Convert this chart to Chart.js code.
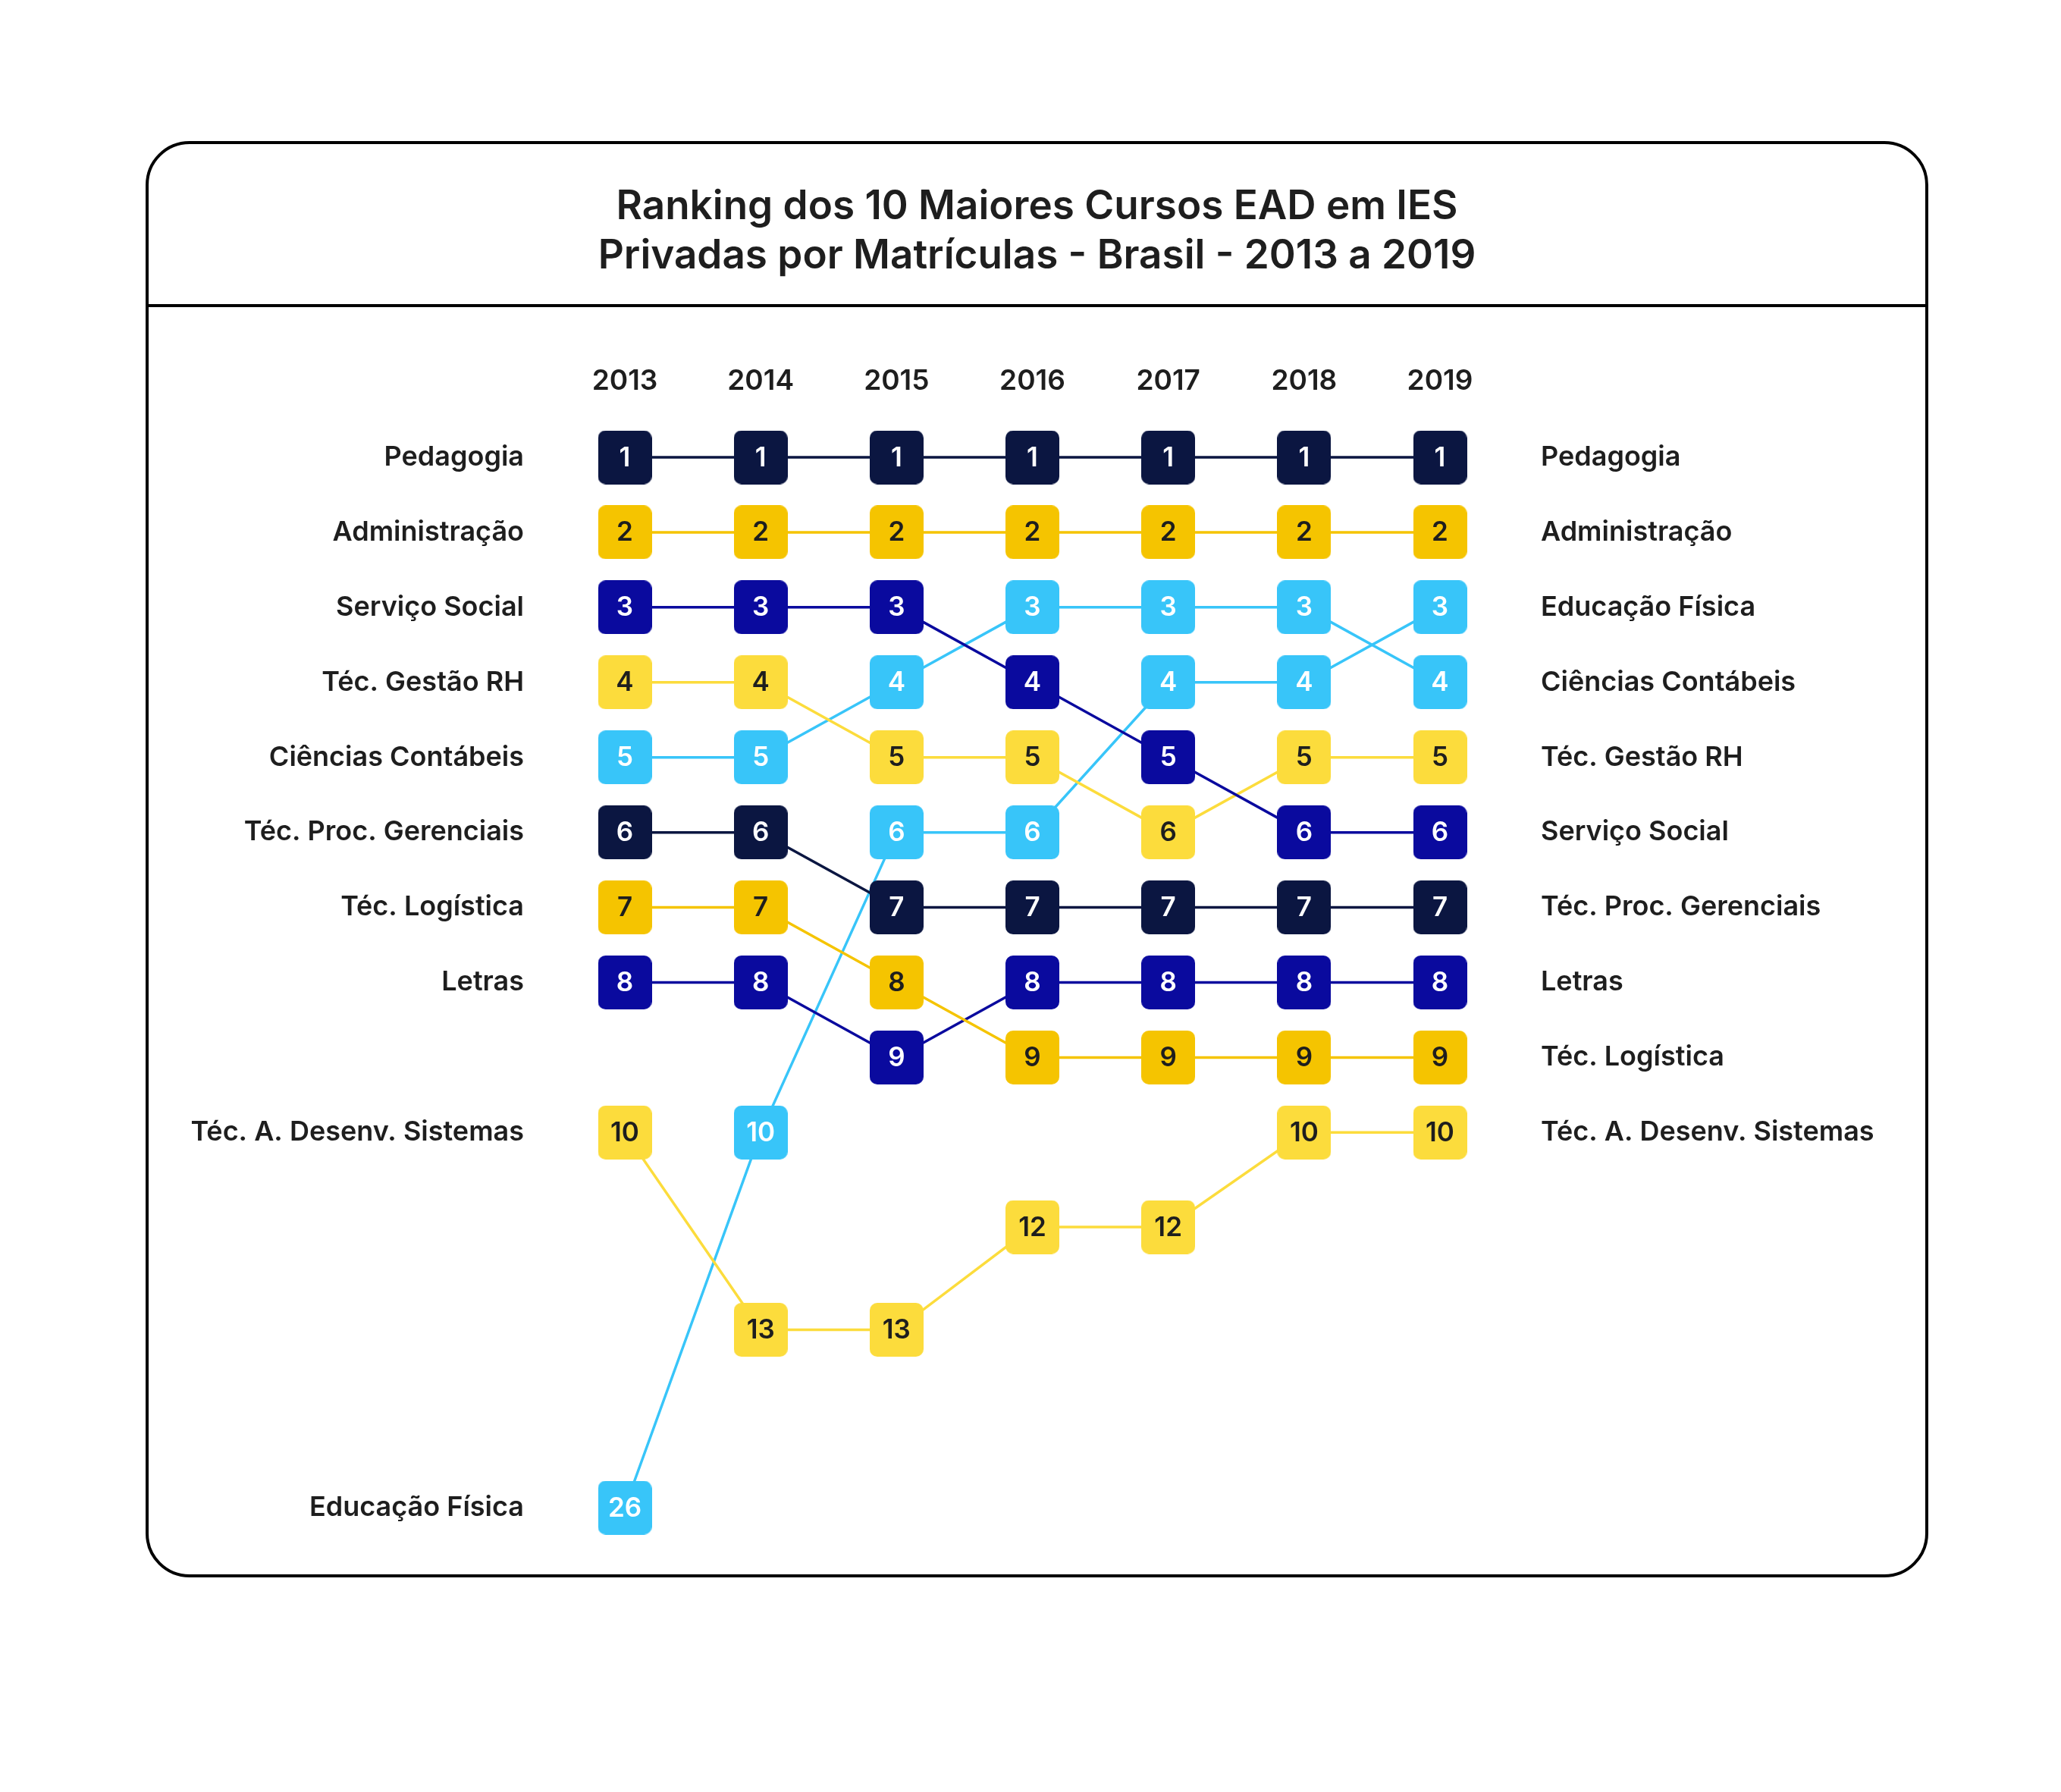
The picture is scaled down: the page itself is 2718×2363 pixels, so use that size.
<!DOCTYPE html>
<html>
<head>
<meta charset="utf-8">
<script src="https://cdn.jsdelivr.net/npm/chart.js@4.4.1/dist/chart.umd.min.js"></script>
<style>
  html, body { margin: 0; padding: 0; background: #ffffff; }
  body { width: 2718px; height: 2363px; position: relative; overflow: hidden; }
  #frame { position: absolute; left: 192px; top: 186px; width: 2351px; height: 1894px;
           box-sizing: border-box; border: 4px solid #000; border-radius: 58px; }
  #divider { position: absolute; left: 0; right: 0; top: 211px; height: 4px; background: #000; }
  #title { position: absolute; left: 192px; top: 238px; width: 2351px; text-align: center;
           font-family: Inter, "Noto Sans", sans-serif; font-weight: 600; font-size: 53px;
           line-height: 65px; color: #1e1e1e; }
  #chart { position: absolute; left: 0; top: 0; }
</style>
</head>
<body>
<div id="frame"><div id="divider"></div></div>
<div id="title">Ranking dos 10 Maiores Cursos EAD em IES<br>Privadas por Matrículas - Brasil - 2013 a 2019</div>
<canvas id="chart" width="2718" height="2363"></canvas>
<script>
// ---------------- data ----------------
const YEARS = ['2013', '2014', '2015', '2016', '2017', '2018', '2019'];

const PEDAGOGIA       = [1, 1, 1, 1, 1, 1, 1];
const ADMINISTRACAO   = [2, 2, 2, 2, 2, 2, 2];
const SERVICO_SOCIAL  = [3, 3, 3, 4, 5, 6, 6];
const GESTAO_RH       = [4, 4, 5, 5, 6, 5, 5];
const CONTABEIS       = [5, 5, 4, 3, 3, 3, 4];
const PROC_GERENCIAIS = [6, 6, 7, 7, 7, 7, 7];
const LOGISTICA       = [7, 7, 8, 9, 9, 9, 9];
const LETRAS          = [8, 8, 9, 8, 8, 8, 8];
const DESENV_SISTEMAS = [10, 13, 13, 12, 12, 10, 10];
const EDUCACAO_FISICA = [26, 10, 6, 6, 4, 4, 3];

const COURSE_NAMES = ['Pedagogia', 'Administração', 'Serviço Social', 'Téc. Gestão RH',
  'Ciências Contábeis', 'Téc. Proc. Gerenciais', 'Téc. Logística', 'Letras',
  'Téc. A. Desenv. Sistemas', 'Educação Física'];
const COURSE_RANKS = [PEDAGOGIA, ADMINISTRACAO, SERVICO_SOCIAL, GESTAO_RH, CONTABEIS,
  PROC_GERENCIAIS, LOGISTICA, LETRAS, DESENV_SISTEMAS, EDUCACAO_FISICA];

// ---------------- styles ----------------
const NAVY = '#0b1641', ROYAL = '#0a0a9e', GOLD = '#f5c400', LEMON = '#fcdc3c', CYAN = '#38c5f9';
const DARK_TEXT = '#1e1e1e', WHITE_TEXT = '#ffffff';
const COURSE_COLORS = [NAVY, GOLD, ROYAL, LEMON, CYAN, NAVY, GOLD, ROYAL, LEMON, CYAN];
const COURSE_TEXT = [WHITE_TEXT, DARK_TEXT, WHITE_TEXT, DARK_TEXT, WHITE_TEXT,
  WHITE_TEXT, DARK_TEXT, WHITE_TEXT, DARK_TEXT, WHITE_TEXT];

// broken rank axis: ranks beyond 10 are compressed (as in the original layout)
const AXIS_RANKS = [1, 10, 12, 13, 26];
const AXIS_ROWS  = [1, 10, 11.26, 12.63, 15];

const FONT = 'Inter, "Noto Sans", sans-serif';

function interp(v, xs, ys) {
  let i = 0;
  if (v <= xs[0]) i = 0;
  else if (v >= xs[xs.length - 1]) i = xs.length - 2;
  else { while (v > xs[i + 1]) i++; }
  const t = (v - xs[i]) / (xs[i + 1] - xs[i]);
  return ys[i] + t * (ys[i + 1] - ys[i]);
}

class RankScale extends Chart.LinearScale {
  getPixelForValue(value) {
    if (value === null || value === undefined || isNaN(value)) return NaN;
    const r0 = interp(this.min, AXIS_RANKS, AXIS_ROWS);
    const r1 = interp(this.max, AXIS_RANKS, AXIS_ROWS);
    return this.getPixelForDecimal((interp(value, AXIS_RANKS, AXIS_ROWS) - r0) / (r1 - r0));
  }
  getValueForPixel(pixel) {
    const r0 = interp(this.min, AXIS_RANKS, AXIS_ROWS);
    const r1 = interp(this.max, AXIS_RANKS, AXIS_ROWS);
    const row = r0 + this.getDecimalForPixel(pixel) * (r1 - r0);
    return interp(row, AXIS_ROWS, AXIS_RANKS);
  }
}
RankScale.id = 'rank';
RankScale.defaults = Chart.LinearScale.defaults;
Chart.register(RankScale);

function boxImage(color) {
  const c = document.createElement('canvas');
  c.width = 71; c.height = 71;
  const g = c.getContext('2d');
  g.fillStyle = color;
  g.beginPath();
  g.roundRect(0, 0, 71, 71, 10);
  g.fill();
  return c;
}

const firstYearTicks = COURSE_RANKS.map(r => r[0]);
const lastYearTicks = COURSE_RANKS.map(r => r[r.length - 1]);
function nameAt(yearIdx, rank) {
  const i = COURSE_RANKS.findIndex(r => r[yearIdx] === rank);
  return i >= 0 ? COURSE_NAMES[i] : '';
}

const lineSets = COURSE_NAMES.map((name, i) => ({
  label: name, data: COURSE_RANKS[i], yAxisID: 'y',
  borderColor: COURSE_COLORS[i], borderWidth: 3.5, pointRadius: 0,
  tension: 0, fill: false, clip: false, order: 2
}));
const boxSets = COURSE_NAMES.map((name, i) => ({
  label: name + ' (rank)', data: COURSE_RANKS[i], yAxisID: 'y',
  showLine: false, pointStyle: boxImage(COURSE_COLORS[i]), pointRadius: 35,
  pointBackgroundColor: COURSE_COLORS[i], clip: false, order: 1,
  textColor: COURSE_TEXT[i], isBox: true
}));

const numberPlugin = {
  id: 'rankNumbers',
  afterDatasetsDraw(chart) {
    const ctx = chart.ctx;
    ctx.save();
    ctx.font = '600 35px ' + FONT;
    ctx.textAlign = 'center';
    ctx.textBaseline = 'middle';
    chart.data.datasets.forEach((ds, di) => {
      if (!ds.isBox) return;
      const meta = chart.getDatasetMeta(di);
      ctx.fillStyle = ds.textColor;
      meta.data.forEach((pt, j) => {
        ctx.fillText(String(ds.data[j]), pt.x, pt.y + 1);
      });
    });
    ctx.restore();
  }
};

const tickFont = { family: FONT, size: 36, weight: '600' };

new Chart(document.getElementById('chart'), {
  type: 'line',
  data: { labels: YEARS, datasets: [...lineSets, ...boxSets] },
  plugins: [numberPlugin],
  options: {
    responsive: false,
    animation: false,
    events: [],
    layout: { padding: { top: 400, bottom: 375, left: 0, right: 0 } },
    plugins: { legend: { display: false }, tooltip: { enabled: false }, title: { display: false } },
    scales: {
      x: {
        type: 'category', position: 'top', offset: false,
        grid: { display: false, drawTicks: false }, border: { display: false },
        ticks: { font: { family: FONT, size: 37, weight: '600' }, color: DARK_TEXT, padding: 78,
                 maxRotation: 0, autoSkip: false },
        afterFit: s => { s.height = 203; }
      },
      y: {
        type: 'rank', position: 'left', min: 1, max: 26, reverse: true, bounds: 'data',
        grid: { display: false, drawTicks: false }, border: { display: false },
        ticks: { font: tickFont, color: DARK_TEXT, padding: 133, autoSkip: false,
                 callback: v => nameAt(0, v) },
        afterBuildTicks: s => { s.ticks = firstYearTicks.map(v => ({ value: v })); },
        afterFit: s => { s.width = 824; }
      },
      y2: {
        type: 'rank', position: 'right', min: 1, max: 26, reverse: true, bounds: 'data',
        grid: { display: false, drawTicks: false }, border: { display: false },
        ticks: { font: tickFont, color: DARK_TEXT, padding: 133, autoSkip: false,
                 callback: v => nameAt(YEARS.length - 1, v) },
        afterBuildTicks: s => { s.ticks = lastYearTicks.map(v => ({ value: v })); },
        afterFit: s => { s.width = 819; }
      }
    }
  }
});
</script>
</body>
</html>
